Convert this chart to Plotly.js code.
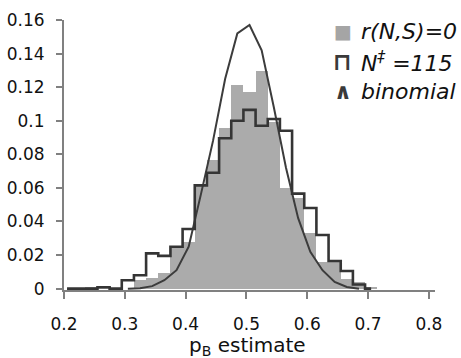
<!DOCTYPE html>
<html>
<head>
<meta charset="utf-8">
<script src="https://cdn.plot.ly/plotly-3.0.1.min.js"></script>
<style>html,body{margin:0;padding:0;background:#fff;}#chart{width:461px;height:358px;}</style>
</head>
<body>
<div id="chart"></div>
<script>
// bin centres (bin width 0.02)
const binCenters = [0.205,0.225,0.245,0.265,0.285,0.305,0.325,0.345,0.365,0.385,0.405,0.425,0.445,0.465,0.485,0.505,0.525,0.545,0.565,0.585,0.605,0.625,0.645,0.665,0.685,0.705,0.725];
// r(N,S)=0 histogram (gray fill)
const rZeroVals = [0,0,0.0007,0.0005,0,0,0.005,0.0066,0.0095,0.024,0.028,0.061,0.0767,0.0955,0.121,0.117,0.1295,0.099,0.06,0.054,0.033,0.016,0.016,0.006,0.004,0.001,0];
// N‡ = 115 histogram (outline)
const nStarVals = [0,0,0,0.0008,0,0.005,0.008,0.021,0.0195,0.025,0.0355,0.0615,0.069,0.0896,0.100,0.1065,0.097,0.101,0.094,0.0566,0.048,0.032,0.0165,0.0105,0.0025,0,0];
// binomial curve
const binomX = [0.305,0.325,0.345,0.365,0.385,0.405,0.425,0.445,0.465,0.485,0.505,0.525,0.545,0.565,0.585,0.605,0.625,0.645,0.665,0.685];
const binomVals = [0,0.0003,0.0015,0.005,0.011,0.025,0.056,0.088,0.125,0.152,0.157,0.142,0.108,0.072,0.042,0.022,0.011,0.004,0.001,0];
// ticks
const xTickVals = [0.2,0.3,0.4,0.5,0.6,0.7,0.8];
const xTickText = ['0.2','0.3','0.4','0.5','0.6','0.7','0.8'];
const yTickVals = [0,0.02,0.04,0.06,0.08,0.1,0.12,0.14,0.16];
const yTickText = ['0','0.02','0.04','0.06','0.08','0.1','0.12','0.14','0.16'];
// legend labels and axis title
const legendLabels = ['<i>r(N,S)=0</i>','<i>N<sup>‡</sup> =115</i>','<i>binomial</i>'];
const legendSymbols = ['■','⊓','∧'];
const xTitle = 'p<sub>B</sub> estimate';

const FONT = 'DejaVu Sans, sans-serif';
const traces = [
  {type:'bar', x:binCenters, y:rZeroVals, width:0.02,
   marker:{color:'#ababab', line:{width:0}}, showlegend:false, hoverinfo:'skip'},
  {type:'scatter', mode:'lines', x:binomX, y:binomVals,
   line:{color:'#3c3c3c', width:2}, showlegend:false, hoverinfo:'skip'},
  {type:'scatter', mode:'lines', x:binCenters.slice(0,26), y:nStarVals.slice(0,26),
   line:{color:'#353535', width:2.6, shape:'hvh'}, showlegend:false, hoverinfo:'skip'}
];

const symColors = ['#a5a5a5','#3a3a3a','#3a3a3a'];
const symSizes = [19,24,22];
const rowY = [0.959,0.846,0.735];
const annotations = [];
for (let i=0;i<3;i++){
  annotations.push({xref:'paper', yref:'paper', x:0.752, y:rowY[i], text:legendSymbols[i],
    showarrow:false, xanchor:'center', yanchor:'middle',
    font:{family:FONT, size:symSizes[i], color:symColors[i], weight:i===0?'normal':'bold'}});
  annotations.push({xref:'paper', yref:'paper', x:0.795, y:rowY[i], text:legendLabels[i],
    showarrow:false, xanchor:'left', yanchor:'middle',
    font:{family:FONT, size:22, color:'#111'}});
}
// x-axis title
annotations.push({xref:'paper', yref:'paper', x:0.494, y:-0.208, text:xTitle,
  showarrow:false, xanchor:'center', yanchor:'middle',
  font:{family:FONT, size:20, color:'#111'}});

const layout = {
  width:461, height:358,
  margin:{l:64, r:26, t:20, b:68, pad:0},
  paper_bgcolor:'#fff', plot_bgcolor:'#fff',
  bargap:0,
  showlegend:false,
  font:{family:FONT, color:'#111'},
  xaxis:{range:[0.2,0.81], tickvals:xTickVals, ticktext:xTickText,
    showline:true, linecolor:'#808080', linewidth:2,
    ticks:'outside', ticklen:7, tickwidth:2, tickcolor:'#808080',
    ticklabelstandoff:11,
    showgrid:false, zeroline:false,
    tickfont:{family:FONT, size:17, color:'#111'}},
  yaxis:{range:[-0.0008,0.16], tickvals:yTickVals, ticktext:yTickText,
    showline:true, linecolor:'#808080', linewidth:2,
    ticks:'outside', ticklen:6, tickwidth:2, tickcolor:'#808080',
    ticklabelstandoff:8,
    showgrid:false, zeroline:false,
    tickfont:{family:FONT, size:17, color:'#111'}},
  annotations:annotations
};
Plotly.newPlot('chart', traces, layout, {staticPlot:true, displayModeBar:false});
</script>
</body>
</html>
